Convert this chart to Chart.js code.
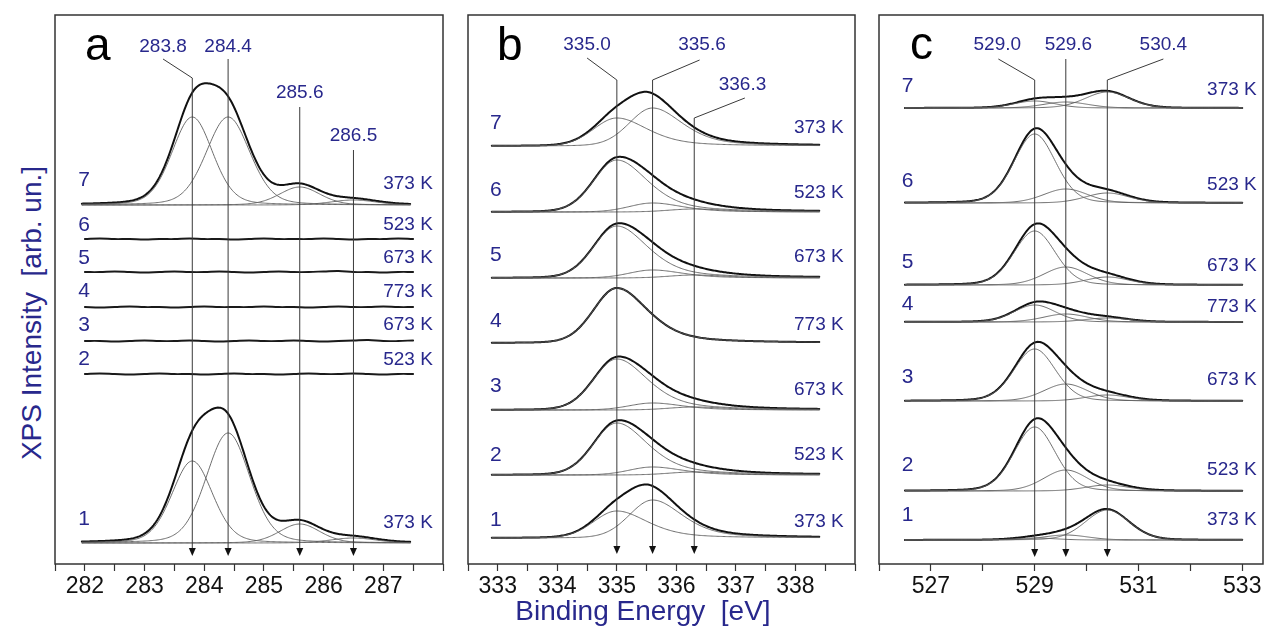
<!DOCTYPE html>
<html>
<head>
<meta charset="utf-8">
<script src="https://cdn.jsdelivr.net/npm/chart.js@4.4.1/dist/chart.umd.min.js"></script>
<style>
body { margin: 0; background: #fff; width: 1266px; height: 641px; position: relative; overflow: hidden; font-family: 'Liberation Sans', Arial, sans-serif; }
canvas { position: absolute; }
#ytitle { position: absolute; left: -168px; top: 297px; width: 400px; height: 32px; line-height: 32px; text-align: center; font-size: 28px; color: #28288c; transform: rotate(-90deg); white-space: pre; }
#xtitle { position: absolute; left: 343px; top: 595px; width: 600px; height: 32px; line-height: 32px; text-align: center; font-size: 28px; color: #28288c; white-space: pre; }
</style>
</head>
<body>
<canvas id="chartA" width="394" height="597" style="left:52px;top:12px"></canvas>
<canvas id="chartB" width="393" height="597" style="left:465px;top:12px"></canvas>
<canvas id="chartC" width="390" height="597" style="left:876px;top:12px"></canvas>
<div id="ytitle">XPS Intensity  [arb. un.]</div>
<div id="xtitle">Binding Energy  [eV]</div>
<script>
// spectra 1..7 (bottom to top), same sequence in all panels
var spectrumNo = ['1', '2', '3', '4', '5', '6', '7'];
var temps = ['373 K', '523 K', '673 K', '773 K', '673 K', '523 K', '373 K'];

// ---- panel a : C 1s ----
var ticksA = [282, 283, 284, 285, 286, 287];
var peaksA = [283.8, 284.4, 285.6, 286.5];
var hwhmA = [0.40, 0.43, 0.40, 0.45];
var heightsA = [
    [82, 110, 19, 5],
    [0, 0, 0, 0],
    [0, 0, 0, 0],
    [0, 0, 0, 0],
    [0, 0, 0, 0],
    [0, 0, 0, 0],
    [88, 88, 18, 5]
];
var offsetsA = [21, 190, 223, 257, 292, 325, 359];
// flat spectra 2-6, read every 0.25 eV from 282.0 to 287.5
var noiseA = [
    null,
    [0, 0.5, 0, -0.5, 0, 0.5, 0, 0, -0.5, 0, 0.5, 0, 0, -0.5, 0, 0.5, 0, 0, 0.5, 0, -0.5, 0, 0],
    [0, 0, -0.5, 0, 0.5, 0, 0, 0.5, 0, -0.5, 0, 0.5, 0, 0, 0.5, 0, -0.5, 0, 0.5, 1, 0, 0, 0.5],
    [0, -0.5, 0, 0.5, 0, 0, -0.5, 0, 0.5, 0, 0, 0, 0.5, 0, 0, -0.5, 0, 0.5, 0, 0, 0.5, 0, 0],
    [0, 0, 0.5, 0, -0.5, 0, 0.5, 0, 0, 0.5, 0, -0.5, 0, 0.5, 0, 0, 0.5, 1, 0, 0, -0.5, 0, 0],
    [0, 0.5, 0, 0, -0.5, 0, 0, 0.5, 0, 0, -0.5, 0, 0.5, 0, 0, 0, 0.5, 0, -0.5, 0, 0, 0.5, 0],
    null
];

// ---- panel b : Pd 3d5/2 ----
var ticksB = [333, 334, 335, 336, 337, 338];
var peaksB = [335.0, 335.6, 336.3];
var hwhmLeftB = [0.46, 0.46, 0.50];
var hwhmRightB = [0.62, 0.60, 0.65];
var heightsB = [
    [27, 38, 0],
    [52, 8, 3],
    [51, 7, 3],
    [55, 0, 0],
    [52, 8, 3],
    [52, 9, 3],
    [28, 38, 0]
];
var offsetsB = [26, 89, 154, 221, 286, 352, 418];

// ---- panel c : O 1s ----
var ticksC = [527, 529, 531, 533];
var peaksC = [529.0, 529.6, 530.4];
var hwhmC = [0.47, 0.50, 0.50];
var heightsC = [
    [2, 5, 30],
    [64, 21, 6],
    [52, 17, 6],
    [17, 8, 4],
    [54, 18, 8],
    [69, 14, 10],
    [7, 6, 16]
];
var offsetsC = [24, 73, 163, 242, 279, 361, 456];

var BLUE = '#28288c';
var FONT = "'Liberation Sans', Arial, sans-serif";

// pseudo-Voigt, separate width / mixing on each side of the peak
function lineShape(x, c, h, wl, wr, ml, mr) {
    var d = x - c;
    var w = d < 0 ? wl : wr;
    var m = d < 0 ? ml : mr;
    var t = (d / w) * (d / w);
    return h * (m / (1 + t) + (1 - m) * Math.exp(-Math.LN2 * t));
}

function makeDatasets(p) {
    var ds = [];
    for (var i = 0; i < p.heights.length; i++) {
        var off = p.offsets[i];
        if (p.noise && p.noise[i]) {
            ds.push({
                data: p.noise[i].map(function(v, k) { return {x: p.noiseStart + k * 0.25, y: off + v}; }),
                borderColor: '#1a1a1a', borderWidth: 1.8, tension: 0.4
            });
            continue;
        }
        var xs = [];
        for (var n = 0; p.range[0] + n * 0.02 <= p.range[1] + 1e-9; n++) xs.push(+(p.range[0] + n * 0.02).toFixed(3));
        var total = xs.map(function() { return 0; });
        for (var j = 0; j < p.peaks.length; j++) {
            var h = p.heights[i][j];
            if (!h) continue;
            var pts = [];
            for (var k = 0; k < xs.length; k++) {
                var v = lineShape(xs[k], p.peaks[j], h, p.wl[j], p.wr[j], p.ml, p.mr);
                total[k] += v;
                pts.push({x: xs[k], y: off + v});
            }
            ds.push({data: pts, borderColor: '#5e5e5e', borderWidth: 0.9});
        }
        ds.push({
            data: xs.map(function(x, k) { return {x: x, y: off + total[k]}; }),
            borderColor: '#111', borderWidth: 2
        });
    }
    return ds;
}

var decor = {
    id: 'decor',
    afterDatasetsDraw: function(chart, args, o) {
        var ctx = chart.ctx, ca = chart.chartArea;
        var xs = chart.scales.x, ys = chart.scales.y;
        ctx.save();
        // frame
        ctx.strokeStyle = '#333';
        ctx.lineWidth = 1.5;
        ctx.strokeRect(ca.left, ca.top, ca.right - ca.left, ca.bottom - ca.top);
        // panel letter
        ctx.fillStyle = '#000';
        ctx.font = '46px ' + FONT;
        ctx.textBaseline = 'alphabetic';
        ctx.textAlign = 'left';
        ctx.fillText(o.letter, ca.left + o.letterPos[0], ca.top + o.letterPos[1]);
        // spectrum numbers and temperatures
        ctx.fillStyle = BLUE;
        ctx.textBaseline = 'middle';
        ctx.font = '21px ' + FONT;
        spectrumNo.forEach(function(s, i) {
            ctx.fillText(s, xs.getPixelForValue(o.numX), ys.getPixelForValue(o.numY[i]));
        });
        ctx.textAlign = 'right';
        ctx.font = '19px ' + FONT;
        temps.forEach(function(s, i) {
            ctx.fillText(s, xs.getPixelForValue(o.tempX), ys.getPixelForValue(o.tempY[i]));
        });
        // peak markers
        ctx.textAlign = 'center';
        ctx.strokeStyle = '#3a3a3a';
        ctx.lineWidth = 1;
        o.leaders.forEach(function(l) {
            var px = xs.getPixelForValue(l.peak);
            var tip = ys.getPixelForValue(o.tip);
            ctx.fillStyle = BLUE;
            ctx.fillText(l.t, xs.getPixelForValue(l.tx), ys.getPixelForValue(l.ty));
            ctx.beginPath();
            ctx.moveTo(xs.getPixelForValue(l.sx), ys.getPixelForValue(l.sy));
            ctx.lineTo(px, ys.getPixelForValue(l.by));
            ctx.lineTo(px, tip - 7);
            ctx.stroke();
            ctx.fillStyle = '#111';
            ctx.beginPath();
            ctx.moveTo(px - 3.5, tip - 8);
            ctx.lineTo(px + 3.5, tip - 8);
            ctx.lineTo(px, tip);
            ctx.closePath();
            ctx.fill();
        });
        ctx.restore();
    }
};

function makeChart(id, p) {
    return new Chart(document.getElementById(id), {
        type: 'line',
        data: {datasets: makeDatasets(p)},
        options: {
            responsive: false,
            animation: false,
            events: [],
            layout: {padding: {left: 3, right: 3, top: 3, bottom: 0}},
            elements: {point: {radius: 0}, line: {fill: false, borderCapStyle: 'round'}},
            plugins: {legend: {display: false}, tooltip: {enabled: false}, decor: p.decor},
            scales: {
                x: {
                    type: 'linear', min: p.min, max: p.max,
                    afterFit: function(s) { s.height = 45; },
                    border: {display: false},
                    grid: {drawOnChartArea: false, drawTicks: true, tickLength: 7, tickColor: '#333', tickWidth: 1.2},
                    ticks: {
                        stepSize: p.step, includeBounds: false, autoSkip: false, maxRotation: 0, padding: 2,
                        color: '#111', font: {size: 23, family: FONT},
                        callback: function(v) { return p.labels.indexOf(v) >= 0 ? String(v) : ''; }
                    }
                },
                y: {display: false, min: 0, max: 549}
            }
        },
        plugins: [decor]
    });
}

makeChart('chartA', {
    min: 281.5, max: 288, step: 0.5, labels: ticksA, range: [281.95, 287.45],
    peaks: peaksA, wl: hwhmA, wr: hwhmA, ml: 0.2, mr: 0.2,
    heights: heightsA, offsets: offsetsA, noise: noiseA, noiseStart: 282.0,
    decor: {
        letter: 'a', letterPos: [30, 45], tip: 8,
        numX: 281.89, numY: [45, 205, 239, 273, 306, 339, 384],
        tempX: 287.83, tempY: [41, 204, 239, 272, 306, 339, 380],
        leaders: [
            {t: '283.8', peak: 283.8, tx: 283.31, ty: 517, sx: 283.31, sy: 505, by: 486},
            {t: '284.4', peak: 284.4, tx: 284.4, ty: 517, sx: 284.4, sy: 505, by: 505},
            {t: '285.6', peak: 285.6, tx: 285.6, ty: 471, sx: 285.6, sy: 457, by: 457},
            {t: '286.5', peak: 286.5, tx: 286.5, ty: 428, sx: 286.5, sy: 414, by: 414}
        ]
    }
});

makeChart('chartB', {
    min: 332.5, max: 339, step: 0.5, labels: ticksB, range: [332.9, 338.4],
    peaks: peaksB, wl: hwhmLeftB, wr: hwhmRightB, ml: 0.1, mr: 0.5,
    heights: heightsB, offsets: offsetsB,
    decor: {
        letter: 'b', letterPos: [29, 45], tip: 10,
        numX: 332.87, numY: [44, 109, 178, 243, 309, 374, 441],
        tempX: 338.81, tempY: [42, 109, 174, 239, 307, 371, 436],
        leaders: [
            {t: '335.0', peak: 335.0, tx: 334.50, ty: 519, sx: 334.50, sy: 506, by: 484},
            {t: '335.6', peak: 335.6, tx: 336.43, ty: 519, sx: 336.39, sy: 504, by: 484},
            {t: '336.3', peak: 336.3, tx: 337.11, ty: 479, sx: 337.15, sy: 466, by: 446}
        ]
    }
});

makeChart('chartC', {
    min: 526, max: 533.4, step: 1, labels: ticksC, range: [526.5, 533.0],
    peaks: peaksC, wl: hwhmC, wr: hwhmC, ml: 0.15, mr: 0.15,
    heights: heightsC, offsets: offsetsC,
    decor: {
        letter: 'c', letterPos: [31, 44], tip: 7,
        numX: 526.44, numY: [49, 99, 187, 260, 302, 383, 478],
        tempX: 533.28, tempY: [44, 94, 184, 257, 298, 379, 474],
        leaders: [
            {t: '529.0', peak: 529.0, tx: 528.28, ty: 519, sx: 528.30, sy: 505, by: 484},
            {t: '529.6', peak: 529.6, tx: 529.65, ty: 519, sx: 529.6, sy: 505, by: 505},
            {t: '530.4', peak: 530.4, tx: 531.48, ty: 519, sx: 531.48, sy: 505, by: 484}
        ]
    }
});
</script>
</body>
</html>
